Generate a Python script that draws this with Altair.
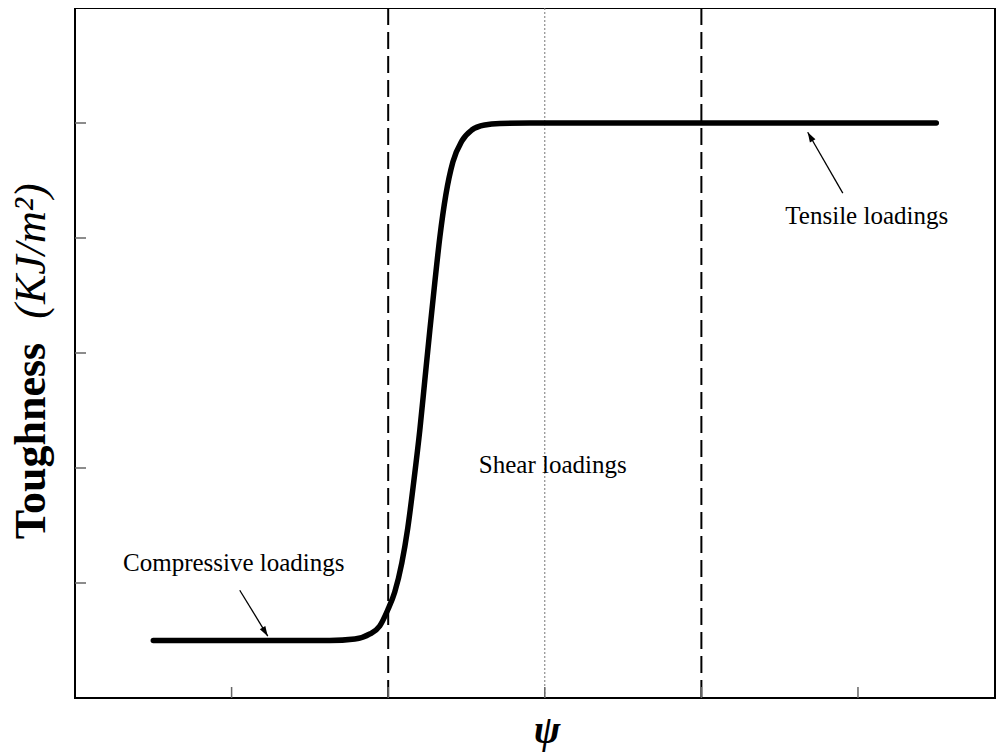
import altair as alt
import pandas as pd

# ---- data ----
psi = [-2.5, -1.373, -1.213, -1.117, -1.054, -1.003, -0.958, -0.913, -0.875, -0.837,
       -0.798, -0.766, -0.734, -0.702, -0.670, -0.632, -0.587, -0.530, -0.466, -0.383,
       -0.287, -0.096, 2.5]
toughness = [0.5, 0.5, 0.513, 0.557, 0.626, 0.765, 0.922, 1.174, 1.478, 1.878,
             2.330, 2.765, 3.200, 3.617, 4.009, 4.374, 4.661, 4.843, 4.939, 4.983,
             4.996, 5.0, 5.0]

x_ticks = [-2, -1, 0, 1, 2]
y_ticks = [1, 2, 3, 4, 5]
dashed_lines = [-1, 1]
dotted_lines = [0]

ann_text = ["Compressive loadings", "Shear loadings", "Tensile loadings"]
ann_x = [-1.986, 0.051, 2.056]
ann_y = [1.171, 2.03, 4.19]

arrow_x1 = [-1.948, 1.903]
arrow_y1 = [0.937, 4.39]
arrow_x2 = [-1.769, 1.679]
arrow_y2 = [0.538, 4.92]
arrow_angle = [148.7, 330.2]

W, H = 920, 690
xs = alt.Scale(domain=[-3, 2.875], nice=False, zero=False)
ys = alt.Scale(domain=[0, 6], nice=False, zero=False)

curve_df = pd.DataFrame({"psi": psi, "t": toughness})
ann_df = pd.DataFrame({"text": ann_text, "x": ann_x, "y": ann_y})
arr_df = pd.DataFrame({"x1": arrow_x1, "y1": arrow_y1, "x2": arrow_x2,
                       "y2": arrow_y2, "ang": arrow_angle})

X = lambda f: alt.X(f, scale=xs, axis=None)
Y = lambda f: alt.Y(f, scale=ys, axis=None)

dashed = alt.Chart(pd.DataFrame({"v": dashed_lines})).mark_rule(
    color="black", strokeWidth=2, strokeDash=[17, 7]
).encode(x=X("v:Q"))

dotted = alt.Chart(pd.DataFrame({"v": dotted_lines})).mark_rule(
    color="#777777", strokeWidth=1, strokeDash=[2, 2]
).encode(x=X("v:Q"))

xt = alt.Chart(pd.DataFrame({"v": x_ticks})).mark_rule(
    color="#666666", strokeWidth=1.5
).encode(x=X("v:Q"), y=alt.value(H), y2=alt.value(H - 11))

yt = alt.Chart(pd.DataFrame({"v": y_ticks})).mark_rule(
    color="#666666", strokeWidth=1.5
).encode(y=Y("v:Q"), x=alt.value(0), x2=alt.value(11))

curve = alt.Chart(curve_df).mark_line(
    color="black", strokeWidth=5.5, interpolate="monotone", strokeCap="round"
).encode(x=X("psi:Q"), y=Y("t:Q"))

labels = alt.Chart(ann_df).mark_text(
    font="Liberation Serif", fontSize=25, color="black", align="center", baseline="middle"
).encode(x=X("x:Q"), y=Y("y:Q"), text="text:N")

arrow_lines = alt.Chart(arr_df).mark_rule(color="black", strokeWidth=1.3).encode(
    x=X("x1:Q"), y=Y("y1:Q"), x2="x2:Q", y2="y2:Q"
)
arrow_heads = alt.Chart(arr_df).mark_point(
    shape="M0,0 L-0.32,1 L0.32,1 Z", filled=True, color="black", size=400, opacity=1
).encode(x=X("x2:Q"), y=Y("y2:Q"), angle=alt.Angle("ang:Q", scale=None))

one = pd.DataFrame({"a": [0]})
ytitle1 = alt.Chart(one).mark_text(
    text="Toughness", font="Liberation Serif", fontWeight="bold", fontSize=44,
    angle=270, align="center", baseline="alphabetic", color="black"
).encode(x=alt.value(-30), y=alt.value(433))
ytitle2 = alt.Chart(one).mark_text(
    text="(KJ/m²)", font="Liberation Serif", fontStyle="italic", fontSize=44,
    angle=270, align="center", baseline="alphabetic", color="black"
).encode(x=alt.value(-30), y=alt.value(243))
xtitle = alt.Chart(one).mark_text(
    text="ψ", font="Liberation Serif", fontStyle="italic", fontWeight="bold", fontSize=40,
    align="center", baseline="middle", color="black"
).encode(x=alt.value(472), y=alt.value(723))

chart = alt.layer(
    dotted, dashed, xt, yt, curve, labels, arrow_lines, arrow_heads,
    ytitle1, ytitle2, xtitle
).properties(
    width=W, height=H,
    autosize=alt.AutoSizeParams(type="none"),
    padding={"left": 67, "top": 0, "right": 2, "bottom": 55},
    background="white",
).configure_view(stroke="black", strokeWidth=2)

chart.save("out.html", embed_options={"renderer": "svg", "actions": False})
